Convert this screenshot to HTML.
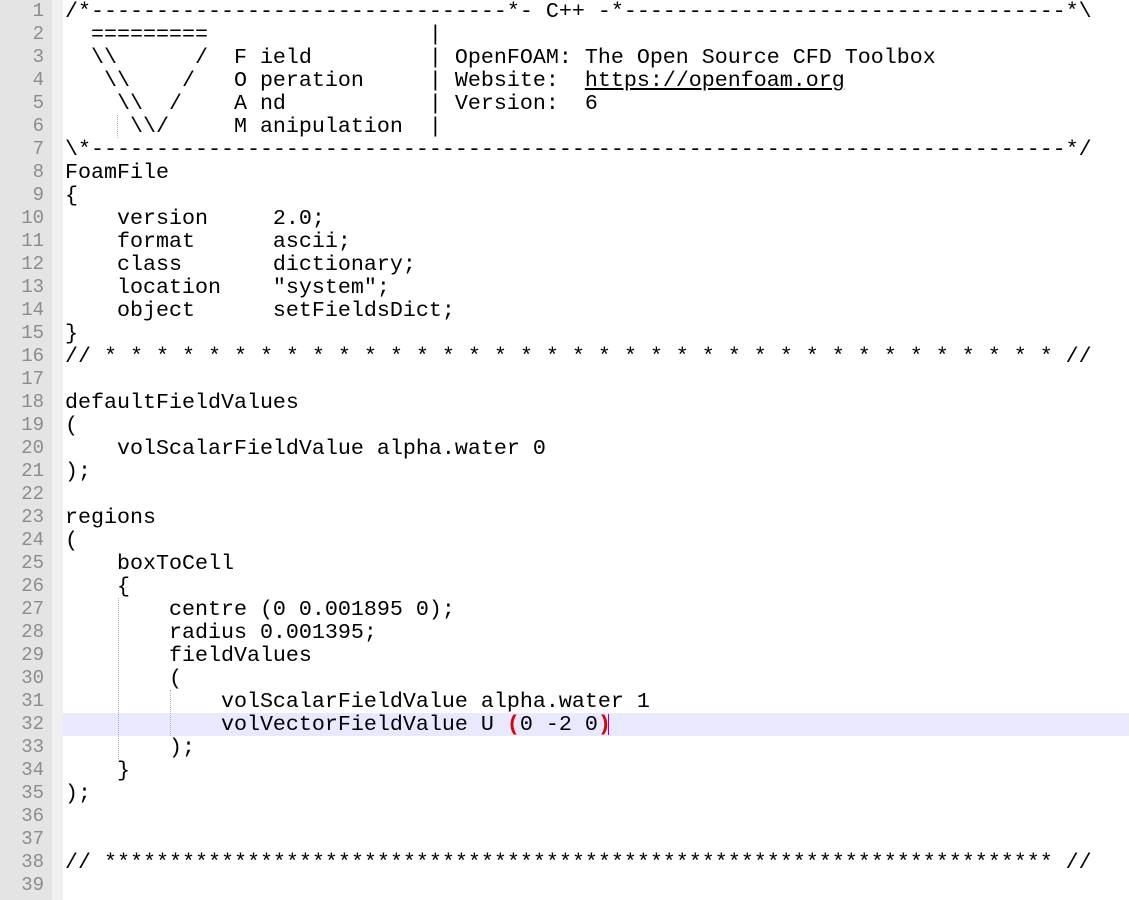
<!DOCTYPE html>
<html><head><meta charset="utf-8"><style>
html,body{margin:0;padding:0;background:#fff;width:1129px;height:900px;overflow:hidden;}
.g1{position:absolute;left:0;top:0;width:52px;height:900px;background:#e4e4e4;}
.g2{position:absolute;left:52px;top:0;width:11px;height:900px;background:#f0f0f0;}
.nums{position:absolute;left:0;top:0;width:44px;text-align:right;font-family:"Liberation Mono",monospace;font-size:19px;line-height:23px;color:#8c8c8c;margin:0;}
.hl{position:absolute;left:63px;top:713px;width:1066px;height:23px;background:#e8e8ff;}
.code{position:absolute;left:65px;top:0;margin:0;font-family:"Liberation Mono",monospace;font-size:21.67px;line-height:23px;color:#000;white-space:pre;}
.r{color:#e00000;font-weight:bold;}
.u{text-decoration:underline;}
.guide{position:absolute;width:0;border-left:1px dotted #b0b0b0;}
.caret{position:absolute;left:608px;top:714px;width:1px;height:21px;background:#8000ff;}
</style></head><body>
<div class="g1"></div><div class="g2"></div>
<div class="hl"></div>
<div class="guide" style="left:117px;top:115px;height:23px"></div>
<div class="guide" style="left:118px;top:598px;height:161px"></div>
<div class="guide" style="left:170px;top:690px;height:46px"></div>
<pre class="nums">1
2
3
4
5
6
7
8
9
10
11
12
13
14
15
16
17
18
19
20
21
22
23
24
25
26
27
28
29
30
31
32
33
34
35
36
37
38
39</pre>
<pre class="code">/*--------------------------------*- C++ -*----------------------------------*\
  =========                 |
  \\      /  F ield         | OpenFOAM: The Open Source CFD Toolbox
   \\    /   O peration     | Website:  <span class="u">https://openfoam.org</span>
    \\  /    A nd           | Version:  6
     \\/     M anipulation  |
\*---------------------------------------------------------------------------*/
FoamFile
{
    version     2.0;
    format      ascii;
    class       dictionary;
    location    "system";
    object      setFieldsDict;
}
// * * * * * * * * * * * * * * * * * * * * * * * * * * * * * * * * * * * * * //

defaultFieldValues
(
    volScalarFieldValue alpha.water 0
);

regions
(
    boxToCell
    {
        centre (0 0.001895 0);
        radius 0.001395;
        fieldValues
        (
            volScalarFieldValue alpha.water 1
            volVectorFieldValue U <span class="r">(</span>0 -2 0<span class="r">)</span>
        );
    }
);


// ************************************************************************* //
</pre>
<div class="caret"></div>
</body></html>
